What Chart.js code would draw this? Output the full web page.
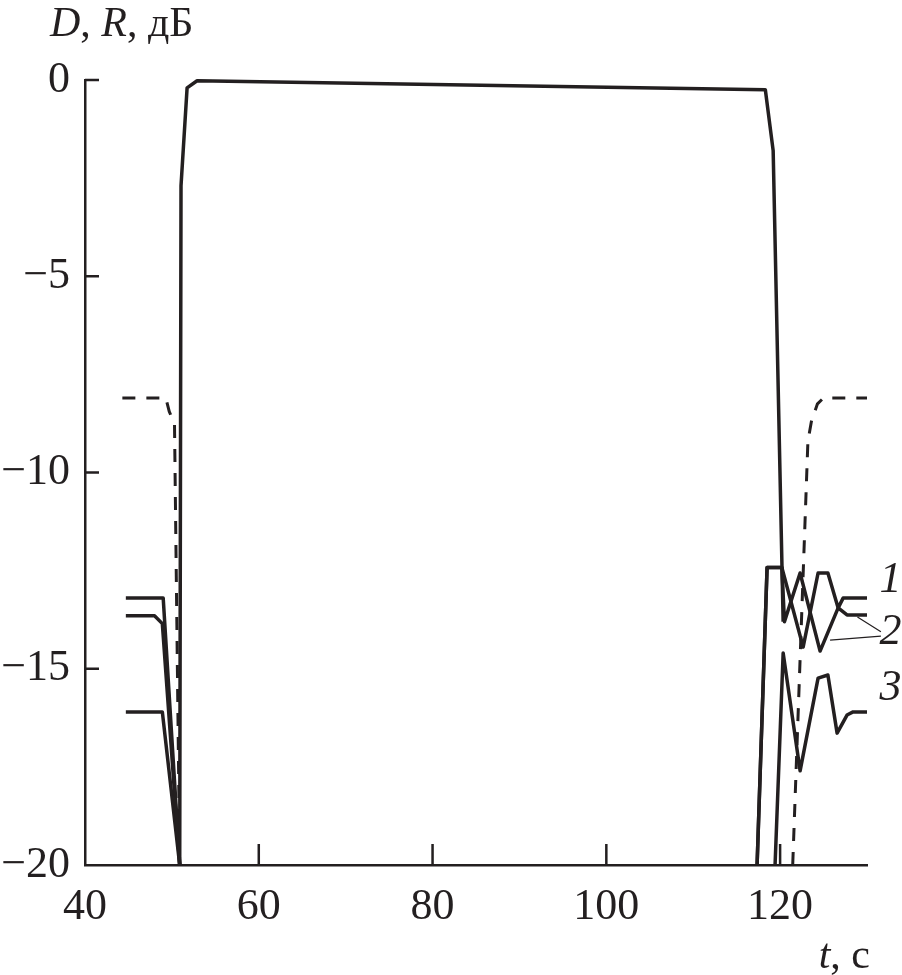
<!DOCTYPE html>
<html>
<head>
<meta charset="utf-8">
<script src="https://cdn.jsdelivr.net/npm/chart.js@4.4.0/dist/chart.umd.min.js"></script>
<style>
  html, body { margin: 0; padding: 0; background: #fff; }
</style>
</head>
<body>
<canvas id="chart" width="902" height="975"></canvas>
<script>
// axis ticks
const xTicks = [40, 60, 80, 100, 120];
const yTicks = [0, -5, -10, -15, -20];

// D (solid, top)
const dT   = [50.9, 51.05, 51.75, 52.9, 118.3, 119.2, 120.35];
const dVal = [-20, -2.7, -0.2, -0.02, -0.25, -1.8, -13.8];

// R, curve 1 (null = gap below -20)
const r1T   = [44.7, 49.0, 50.9, 80, 117.35, 118.5, 120.2, 122.65, 124.37, 125.5, 126.68, 127.25, 130];
const r1Val = [-13.2, -13.2, -20, null, -20, -12.42, -12.42, -14.45, -12.56, -12.56, -13.45, -13.2, -13.2];

// R, curve 2
const r2T   = [44.7, 48.0, 48.9, 50.9, 80, 117.35, 118.5, 120.2, 120.5, 122.3, 124.6, 126.68, 127.7, 130];
const r2Val = [-13.65, -13.65, -13.85, -20, null, -20, -12.42, -12.42, -13.8, -12.56, -14.55, -13.45, -13.63, -13.63];

// R, curve 3
const r3T   = [44.7, 48.9, 50.9, 80, 119.42, 120.35, 122.3, 124.37, 125.5, 126.56, 127.7, 128.4, 130];
const r3Val = [-16.1, -16.1, -20, null, -20, -14.6, -17.6, -15.24, -15.16, -16.64, -16.18, -16.1, -16.1];

// dashed curve
const dashT   = [44.3, 49.3, 49.7, 50.3, 50.9, 80, 121.45, 123.2, 123.6, 124.3, 125.0, 130];
const dashVal = [-8.1, -8.1, -8.45, -8.75, -20, null, -20, -9.2, -8.7, -8.25, -8.1, -8.1];

// curve labels and leader lines for "2"
const curveLabels = [
    { text: '1', x: 132.7, y: -12.75 },
    { text: '2', x: 132.7, y: -14.08 },
    { text: '3', x: 132.7, y: -15.5 }
];
const leaders = [
    [128.9, -13.68, 131.6, -14.06],
    [125.75, -14.27, 131.6, -14.17]
];

const ink = '#231f20';
const serif = '"Liberation Serif", "DejaVu Serif", serif';

function pairs(ts, vs) {
    return ts.map((t, i) => ({ x: t, y: vs[i] }));
}

function line(ts, vs, dashed) {
    return {
        data: pairs(ts, vs),
        borderColor: ink,
        borderWidth: dashed ? 3 : 3.5,
        borderDash: dashed ? [13, 11] : [],
        pointRadius: 0,
        tension: 0,
        spanGaps: false,
        clip: false,
        borderJoinStyle: 'round'
    };
}

const decor = {
    id: 'decor',
    afterDraw(chart) {
        const ctx = chart.ctx;
        const xs = chart.scales.x, ys = chart.scales.y;
        const area = chart.chartArea;
        ctx.save();
        ctx.strokeStyle = ink;
        ctx.fillStyle = ink;
        ctx.lineWidth = 2.5;

        // inward tick marks
        ctx.beginPath();
        for (const v of xTicks) {
            if (v === xs.min) continue;
            const px = xs.getPixelForValue(v);
            ctx.moveTo(px, area.bottom);
            ctx.lineTo(px, area.bottom - 21);
        }
        for (const v of yTicks) {
            if (v === ys.min) continue;
            const py = ys.getPixelForValue(v);
            ctx.moveTo(area.left, py);
            ctx.lineTo(area.left + 14, py);
        }
        ctx.stroke();

        // tick labels
        ctx.font = '44px ' + serif;
        ctx.textAlign = 'center';
        ctx.textBaseline = 'middle';
        for (const v of xTicks) {
            ctx.fillText(String(v), xs.getPixelForValue(v), area.bottom + 42);
        }
        ctx.textAlign = 'right';
        for (const v of yTicks) {
            const s = v < 0 ? '\u2212' + Math.abs(v) : String(v);
            ctx.fillText(s, area.left - 15, ys.getPixelForValue(v));
        }

        // axis titles
        ctx.textAlign = 'left';
        ctx.textBaseline = 'alphabetic';
        let x = area.left - 35;
        const yT = area.top - 44;
        const parts = [['D', true], [', ', false], ['R', true], [', дБ', false]];
        for (const [s, it] of parts) {
            ctx.font = (it ? 'italic ' : '') + '42px ' + serif;
            ctx.fillText(s, x, yT);
            x += ctx.measureText(s).width;
        }
        ctx.textAlign = 'right';
        let xr = area.right + 3;
        const yB = area.bottom + 103;
        ctx.font = '42px ' + serif;
        ctx.fillText(', c', xr, yB);
        xr -= ctx.measureText(', c').width;
        ctx.font = 'italic 42px ' + serif;
        ctx.fillText('t', xr, yB);

        // curve numbers
        ctx.font = 'italic 44px ' + serif;
        ctx.textAlign = 'center';
        ctx.textBaseline = 'middle';
        for (const l of curveLabels) {
            ctx.fillText(l.text, xs.getPixelForValue(l.x), ys.getPixelForValue(l.y));
        }
        ctx.lineWidth = 1.2;
        ctx.beginPath();
        for (const [x1, y1, x2, y2] of leaders) {
            ctx.moveTo(xs.getPixelForValue(x1), ys.getPixelForValue(y1));
            ctx.lineTo(xs.getPixelForValue(x2), ys.getPixelForValue(y2));
        }
        ctx.stroke();
        ctx.restore();
    }
};

new Chart(document.getElementById('chart'), {
    type: 'line',
    data: {
        datasets: [
            line(dT, dVal, false),
            line(r1T, r1Val, false),
            line(r2T, r2Val, false),
            line(r3T, r3Val, false),
            line(dashT, dashVal, true)
        ]
    },
    options: {
        responsive: false,
        animation: false,
        devicePixelRatio: 1,
        layout: { padding: { left: 85, top: 80, right: 35, bottom: 110 } },
        plugins: { legend: { display: false }, tooltip: { enabled: false } },
        scales: {
            x: {
                type: 'linear', min: 40, max: 130,
                ticks: { display: false },
                grid: { display: false, drawTicks: false },
                border: { display: true, color: ink, width: 2.5 }
            },
            y: {
                min: -20, max: 0,
                ticks: { display: false },
                grid: { display: false, drawTicks: false },
                border: { display: true, color: ink, width: 2.5 }
            }
        }
    },
    plugins: [decor]
});
</script>
</body>
</html>
